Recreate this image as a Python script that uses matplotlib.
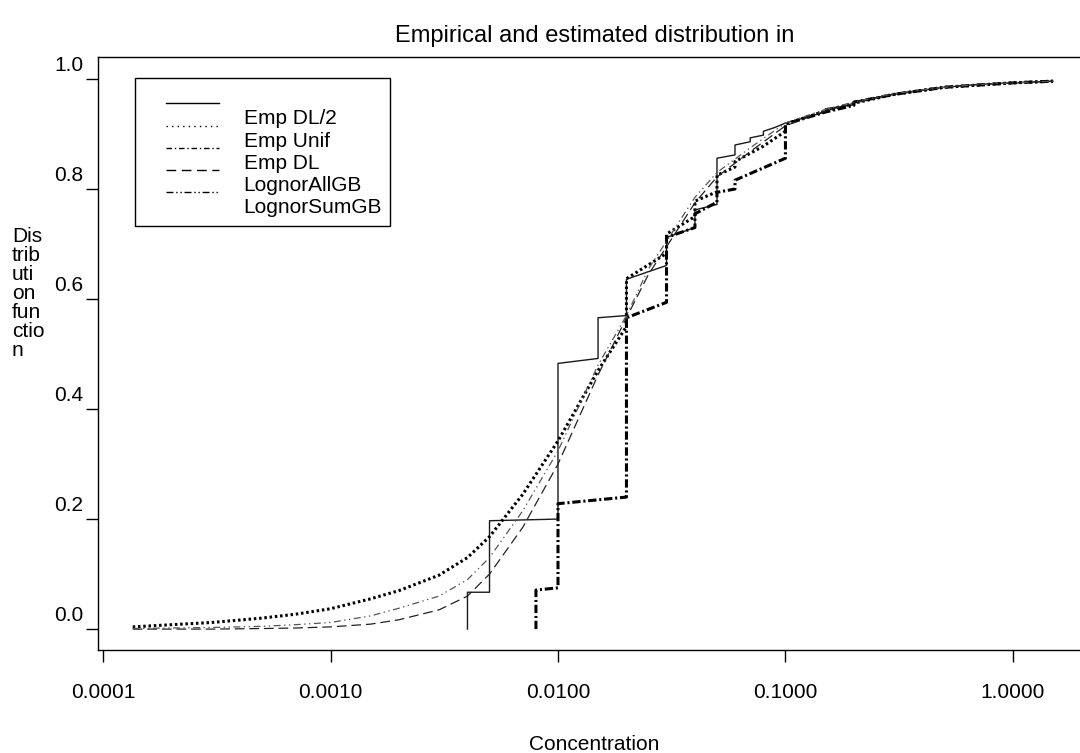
import numpy as np
import matplotlib
matplotlib.use("Agg")
import matplotlib.pyplot as plt
import matplotlib.transforms as mtransforms
from matplotlib.legend_handler import HandlerLine2D
from matplotlib.lines import Line2D

plt.rcParams["font.family"] = ["Liberation Sans", "DejaVu Sans"]
plt.rcParams["lines.scale_dashes"] = False

# Emp DL/2 (non-detects at DL/2), solid step curve
dl2_x = [0.004, 0.004, 0.005, 0.005, 0.01, 0.01, 0.015, 0.015, 0.02, 0.02,
         0.03, 0.03, 0.04, 0.04, 0.05, 0.05, 0.06, 0.06, 0.07, 0.07,
         0.08, 0.08, 0.09, 0.1, 0.15, 0.15, 0.2, 0.2, 0.25, 0.3,
         0.5, 0.7, 1.0, 1.5]
dl2_y = [0.0, 0.067, 0.067, 0.197, 0.200, 0.483, 0.492, 0.566, 0.570, 0.636,
         0.661, 0.712, 0.730, 0.762, 0.772, 0.856, 0.862, 0.880, 0.886, 0.893,
         0.898, 0.905, 0.912, 0.920, 0.940, 0.946, 0.953, 0.959, 0.966, 0.972,
         0.985, 0.990, 0.993, 0.996]

# Emp Unif (non-detects uniform on [0, DL]), heavy dotted
unif_x = [0.000135, 0.0002, 0.0003, 0.0005, 0.0007, 0.001, 0.0015, 0.002, 0.003, 0.004,
          0.005, 0.007, 0.01, 0.015, 0.02, 0.02, 0.03, 0.03, 0.04, 0.04,
          0.05, 0.05, 0.06, 0.06, 0.08, 0.1, 0.1, 0.15, 0.2, 0.3,
          0.5, 1.0, 1.5]
unif_y = [0.004, 0.008, 0.012, 0.020, 0.027, 0.037, 0.055, 0.070, 0.098, 0.130,
          0.168, 0.245, 0.342, 0.470, 0.550, 0.637, 0.683, 0.718, 0.750, 0.778,
          0.795, 0.825, 0.840, 0.850, 0.878, 0.905, 0.918, 0.942, 0.956, 0.972,
          0.985, 0.993, 0.996]

# Emp DL (non-detects at DL), heavy dash-dot step curve
edl_x = [0.008, 0.008, 0.01, 0.01, 0.02, 0.02, 0.03, 0.03, 0.04, 0.04,
         0.05, 0.05, 0.06, 0.06, 0.1, 0.1, 0.15, 0.2, 0.2, 0.3,
         0.5, 1.0, 1.5]
edl_y = [0.0, 0.071, 0.075, 0.228, 0.240, 0.566, 0.594, 0.712, 0.730, 0.755,
         0.776, 0.794, 0.800, 0.816, 0.856, 0.918, 0.940, 0.952, 0.958, 0.972,
         0.985, 0.993, 0.996]

# fitted lognormal curves
ln_x = [0.000135, 0.0002, 0.0003, 0.0005, 0.0007, 0.001, 0.0015, 0.002, 0.003, 0.004,
        0.005, 0.007, 0.01, 0.015, 0.02, 0.025, 0.03, 0.04, 0.05, 0.07,
        0.1, 0.15, 0.2, 0.3, 0.5, 0.7, 1.0, 1.5]
allgb_y = [0.0, 0.0, 0.0, 0.001, 0.002, 0.004, 0.009, 0.017, 0.035, 0.060,
           0.100, 0.185, 0.300, 0.462, 0.566, 0.645, 0.695, 0.775, 0.822, 0.868,
           0.915, 0.942, 0.956, 0.973, 0.985, 0.990, 0.993, 0.996]
sumgb_y = [0.001, 0.002, 0.003, 0.005, 0.008, 0.012, 0.024, 0.038, 0.060, 0.090,
           0.130, 0.215, 0.324, 0.480, 0.570, 0.655, 0.705, 0.785, 0.830, 0.875,
           0.920, 0.945, 0.958, 0.974, 0.985, 0.990, 0.993, 0.996]

x_ticks = [0.0001, 0.001, 0.01, 0.1, 1.0]
x_tick_labels = ["0.0001", "0.0010", "0.0100", "0.1000", "1.0000"]
y_ticks = [0.0, 0.2, 0.4, 0.6, 0.8, 1.0]
y_tick_labels = ["0.0", "0.2", "0.4", "0.6", "0.8", "1.0"]
legend_labels = [" ", "Emp DL/2", "Emp Unif", "Emp DL", "LognorAllGB", "LognorSumGB"]


class ShiftedLineHandler(HandlerLine2D):
    """Legend line drawn a little below the label, like the original."""

    def __init__(self, dy=0.0, **kwargs):
        super().__init__(**kwargs)
        self.dy = dy

    def create_artists(self, legend, orig_handle, xdescent, ydescent,
                       width, height, fontsize, trans):
        arts = super().create_artists(legend, orig_handle, xdescent, ydescent,
                                      width, height, fontsize, trans)
        for a in arts:
            a.set_ydata(np.asarray(a.get_ydata(), dtype=float) - self.dy)
        return arts


W, H = 1080, 753
fig = plt.figure(figsize=(W / 100, H / 100), dpi=100)
ax = fig.add_axes([98 / W, 1 - 650 / H, (W - 98) / W + 0.01, (650 - 57) / H])

ax.plot(dl2_x, dl2_y, color="#1a1a1a", lw=1.0, label="Emp DL/2")
ax.plot(unif_x, unif_y, color="black", lw=2.2, dashes=(1.8, 2.0), label="Emp Unif")
ax.plot(edl_x, edl_y, color="black", lw=2.2, dashes=(6, 2, 1.5, 2), label="Emp DL")
ax.plot(ln_x, allgb_y, color="#222222", lw=0.9, dashes=(7, 3.5), label="LognorAllGB")
ax.plot(ln_x, sumgb_y, color="#555555", lw=0.9, dashes=(5, 2.5, 1, 2.5, 1, 2.5),
        label="LognorSumGB")

ax.set_xscale("log")
ax.set_xlim(9.5e-5, 2.2)
ax.set_ylim(-0.038, 1.040)
ax.minorticks_off()
ax.set_xticks(x_ticks)
ax.set_xticklabels(x_tick_labels)
ax.set_yticks(y_ticks)
ax.set_yticklabels(y_tick_labels)
ax.tick_params(axis="both", which="major", direction="out", length=8.6, width=1.0,
               labelsize=15, color="black")
ax.tick_params(axis="x", pad=15)
ax.tick_params(axis="y", pad=2)
ax.spines["right"].set_visible(False)
for s in ("left", "top", "bottom"):
    ax.spines[s].set_linewidth(1.0)

# y tick labels sit above their ticks in the original
up = mtransforms.ScaledTranslation(0, 0.16, fig.dpi_scale_trans)
for lab in ax.get_yticklabels():
    lab.set_transform(lab.get_transform() + up)

ax.set_title("Empirical and estimated distribution in", fontsize=17, pad=11)
ax.set_xlabel("Concentration", fontsize=15, labelpad=24)
ax.set_ylabel("Dis\ntrib\nuti\non\nfun\nctio\nn", fontsize=15, rotation=0,
              ha="left", va="center", multialignment="left", linespacing=1.0)
ax.yaxis.set_label_coords(-0.0866, 0.601)

# legend mimics the original layout (first row unlabeled, last row without a line)
handles = [
    Line2D([], [], color="black", lw=1.0),
    Line2D([], [], color="black", lw=1.0, dashes=(1, 3)),
    Line2D([], [], color="black", lw=1.0, dashes=(4, 2, 1, 2)),
    Line2D([], [], color="black", lw=1.0, dashes=(7, 4)),
    Line2D([], [], color="black", lw=1.0, dashes=(5, 2, 1, 2, 1, 2)),
    Line2D([], [], linestyle="none"),
]
leg_top = (650 - 78) / (650 - 57)
leg_h = (225 - 78) / (650 - 57)
leg = ax.legend(handles, legend_labels, loc="upper left",
                bbox_to_anchor=(37 / 982, leg_top - leg_h, 252 / 982, leg_h),
                mode="expand", borderaxespad=0, fontsize=15, handlelength=3.55,
                handletextpad=1.2, labelspacing=0.15, borderpad=0.45,
                frameon=True, fancybox=False, framealpha=1, edgecolor="black",
                handler_map={Line2D: ShiftedLineHandler(dy=6.0, xpad=1.0)})
leg.get_frame().set_linewidth(1.0)

fig.savefig("out.png", dpi=100)
